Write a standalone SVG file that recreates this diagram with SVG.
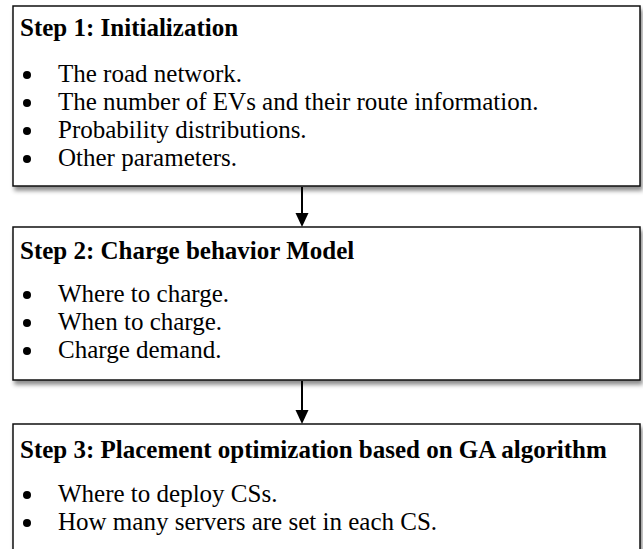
<svg xmlns="http://www.w3.org/2000/svg" width="643" height="549" viewBox="0 0 643 549">
  <defs>
    <filter id="shadow" x="-5%" y="-10%" width="115%" height="130%">
      <feDropShadow dx="2" dy="4" stdDeviation="2" flood-color="#000" flood-opacity="0.45"/>
    </filter>
  </defs>
  <style>
    .box { fill: #fff; stroke: #111; stroke-width: 1.5; filter: url(#shadow); }
    .title { font-family: "Liberation Serif", "Times New Roman", serif; font-weight: bold; font-size: 25px; fill: #000; }
    .item { font-family: "Liberation Serif", "Times New Roman", serif; font-size: 25px; fill: #000; }
    .dot { fill: #000; }
    .edge { stroke: #000; stroke-width: 2; fill: none; }
    .head { fill: #000; }
  </style>

  <!-- Step 1 -->
  <g id="step1">
    <rect class="box" x="13" y="6" width="627" height="180"/>
    <text class="title" x="20" y="36">Step 1: Initialization</text>
    <circle class="dot" cx="27" cy="75" r="4"/>
    <text class="item" x="58" y="82">The road network.</text>
    <circle class="dot" cx="27" cy="103" r="4"/>
    <text class="item" x="58" y="110">The number of EVs and their route information.</text>
    <circle class="dot" cx="27" cy="131" r="4"/>
    <text class="item" x="58" y="138">Probability distributions.</text>
    <circle class="dot" cx="27" cy="159" r="4"/>
    <text class="item" x="58" y="166">Other parameters.</text>
  </g>

  <!-- Step 2 -->
  <g id="step2">
    <rect class="box" x="13" y="227" width="627" height="153"/>
    <text class="title" x="20" y="259">Step 2: Charge behavior Model</text>
    <circle class="dot" cx="27" cy="295" r="4"/>
    <text class="item" x="58" y="302">Where to charge.</text>
    <circle class="dot" cx="27" cy="323" r="4"/>
    <text class="item" x="58" y="330">When to charge.</text>
    <circle class="dot" cx="27" cy="351" r="4"/>
    <text class="item" x="58" y="358">Charge demand.</text>
  </g>

  <!-- Step 3 -->
  <g id="step3">
    <rect class="box" x="13" y="424" width="627" height="140"/>
    <text class="title" x="20" y="458">Step 3: Placement optimization based on GA algorithm</text>
    <circle class="dot" cx="27" cy="495" r="4"/>
    <text class="item" x="58" y="502">Where to deploy CSs.</text>
    <circle class="dot" cx="27" cy="523" r="4"/>
    <text class="item" x="58" y="530">How many servers are set in each CS.</text>
  </g>

  <!-- connectors -->
  <g id="connectors">
    <line class="edge" x1="302" y1="187" x2="302" y2="214"/>
    <polygon class="head" points="295.5,213 308.5,213 302,227"/>
    <line class="edge" x1="302" y1="381" x2="302" y2="411"/>
    <polygon class="head" points="295.5,410 308.5,410 302,424"/>
  </g>
</svg>
